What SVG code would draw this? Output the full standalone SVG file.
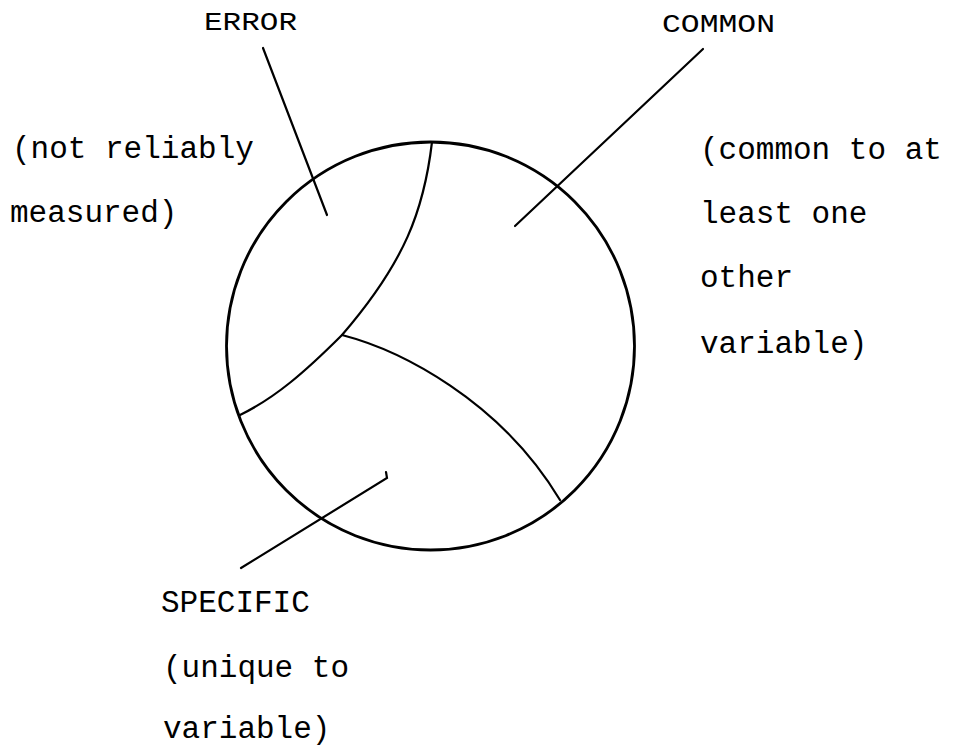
<svg xmlns="http://www.w3.org/2000/svg" width="959" height="747" viewBox="0 0 959 747">
<style>
.t{font-family:"Liberation Mono","DejaVu Sans Mono",monospace;font-size:31px;fill:#000}
.h{font-family:"Liberation Mono","DejaVu Sans Mono",monospace;font-size:25px;fill:#000}
.ln{fill:none;stroke:#000;stroke-width:2.2;stroke-linecap:round}
</style>
<rect width="959" height="747" fill="#fff"/>
<g id="circle">
<circle cx="430.5" cy="346" r="204" fill="none" stroke="#000" stroke-width="2.8"/>
<path class="ln" d="M432,142 C424,210 405,262 342,335 C305,372 275,398 240,415" stroke-width="2"/>
<path class="ln" d="M342,335 C400,350 500,400 560,500" stroke-width="3"/>
</g>
<g id="connectors">
<line class="ln" x1="263" y1="48" x2="327" y2="215"/>
<line class="ln" x1="703" y1="49" x2="515" y2="226"/>
<path class="ln" d="M241,568 L387,478 L386,472"/>
</g>
<g id="error">
<text class="h" x="204" y="30" textLength="93" lengthAdjust="spacingAndGlyphs">ERROR</text>
<text class="t" x="12" y="158">(not reliably</text>
<text class="t" x="10" y="222">measured)</text>
</g>
<g id="common">
<text class="h" x="662" y="32" textLength="113" lengthAdjust="spacingAndGlyphs">COMMON</text>
<text class="t" x="700" y="159">(common to at</text>
<text class="t" x="700" y="223">least one</text>
<text class="t" x="700" y="287">other</text>
<text class="t" x="700" y="353">variable)</text>
</g>
<g id="specific">
<text class="t" x="161" y="612">SPECIFIC</text>
<text class="t" x="163" y="677">(unique to</text>
<text class="t" x="163" y="738">variable)</text>
</g>
</svg>
